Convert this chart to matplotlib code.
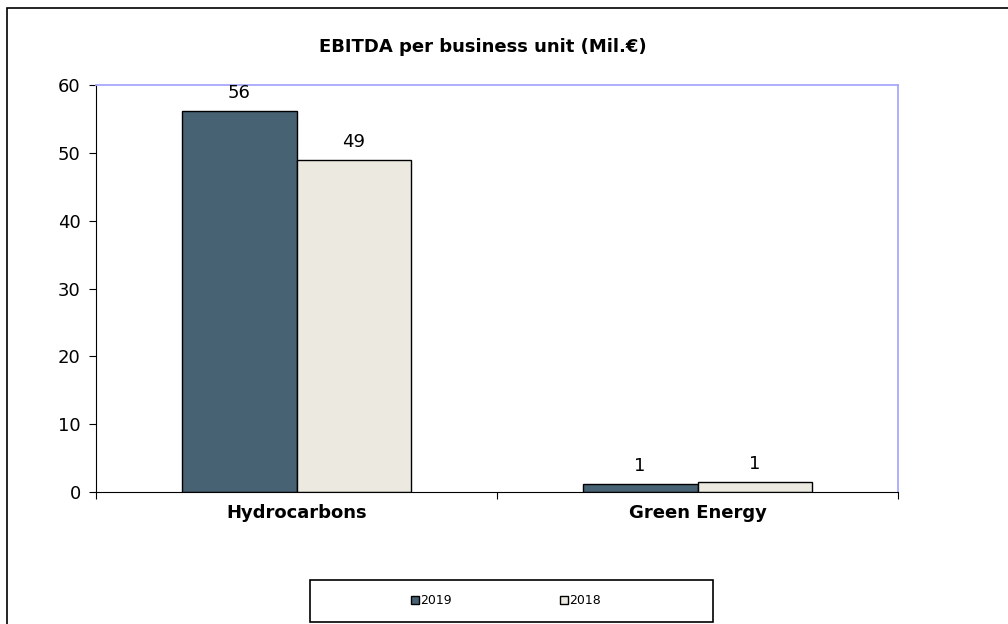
import matplotlib.pyplot as plt
from matplotlib.patches import Rectangle, Patch

categories = ["Hydrocarbons", "Green Energy"]
years = ["2019", "2018"]
values_2019 = [56.2, 1.2]
values_2018 = [49.0, 1.5]
labels_2019 = ["56", "1"]
labels_2018 = ["49", "1"]

W, H = 1008, 624
fig = plt.figure(figsize=(W / 100, H / 100), dpi=100)
plt.rcParams["font.family"] = ["Verdana", "DejaVu Sans"]

# outer chart border
fig.patches.append(Rectangle((7 / W, -0.1), 1.2, 1 - 8 / H + 0.1,
                             transform=fig.transFigure, fill=False,
                             edgecolor="black", linewidth=1.2))

ax = fig.add_axes([96 / W, 1 - 492 / H, 802 / W, 407 / H])

x = range(len(categories))
bw = 0.286
b1 = ax.bar([i - bw / 2 for i in x], values_2019, bw, color="#476273",
            edgecolor="black", linewidth=1, label=years[0])
b2 = ax.bar([i + bw / 2 for i in x], values_2018, bw, color="#ECEAE0",
            edgecolor="black", linewidth=1, label=years[1])

for bars, labs in ((b1, labels_2019), (b2, labels_2018)):
    for r, t in zip(bars, labs):
        ax.text(r.get_x() + r.get_width() / 2, r.get_height() + 1.3, t,
                ha="center", va="bottom", fontsize=13)

ax.set_xlim(-0.5, 1.5)
ax.set_ylim(0, 60)
ax.set_yticks(range(0, 61, 10))
ax.tick_params(axis="y", labelsize=13, direction="out", length=5, pad=6)

ax.set_xticks([-0.5, 0.5, 1.5])
ax.set_xticklabels([])
ax.set_xticks([0, 1], minor=True)
ax.set_xticklabels(categories, minor=True, fontsize=13, fontweight="bold")
ax.tick_params(axis="x", which="major", direction="out", length=5)
ax.tick_params(axis="x", which="minor", length=0, pad=9)

ax.spines["left"].set_color("black")
ax.spines["bottom"].set_color("black")
for s in ("top", "right"):
    ax.spines[s].set_color("#A8A8FF")
    ax.spines[s].set_linewidth(1.3)

fig.text(483 / W, 1 - 47 / H, "EBITDA per business unit (Mil.€)",
         ha="center", va="center", fontsize=13, fontweight="bold")

# legend box
fig.patches.append(Rectangle((310 / W, 1 - 622 / H), 403 / W, 42 / H,
                             transform=fig.transFigure, fill=False,
                             edgecolor="black", linewidth=1.2))
handles = [Patch(facecolor="#476273", edgecolor="black"),
           Patch(facecolor="#ECEAE0", edgecolor="black")]
fig.legend(handles, years, loc="center", ncol=2,
           bbox_to_anchor=(506 / W, 1 - 601 / H), fontsize=9,
           frameon=False, handlelength=0.6, handleheight=0.6,
           handletextpad=0.1, columnspacing=8.7)

fig.savefig("out.png", dpi=100)
